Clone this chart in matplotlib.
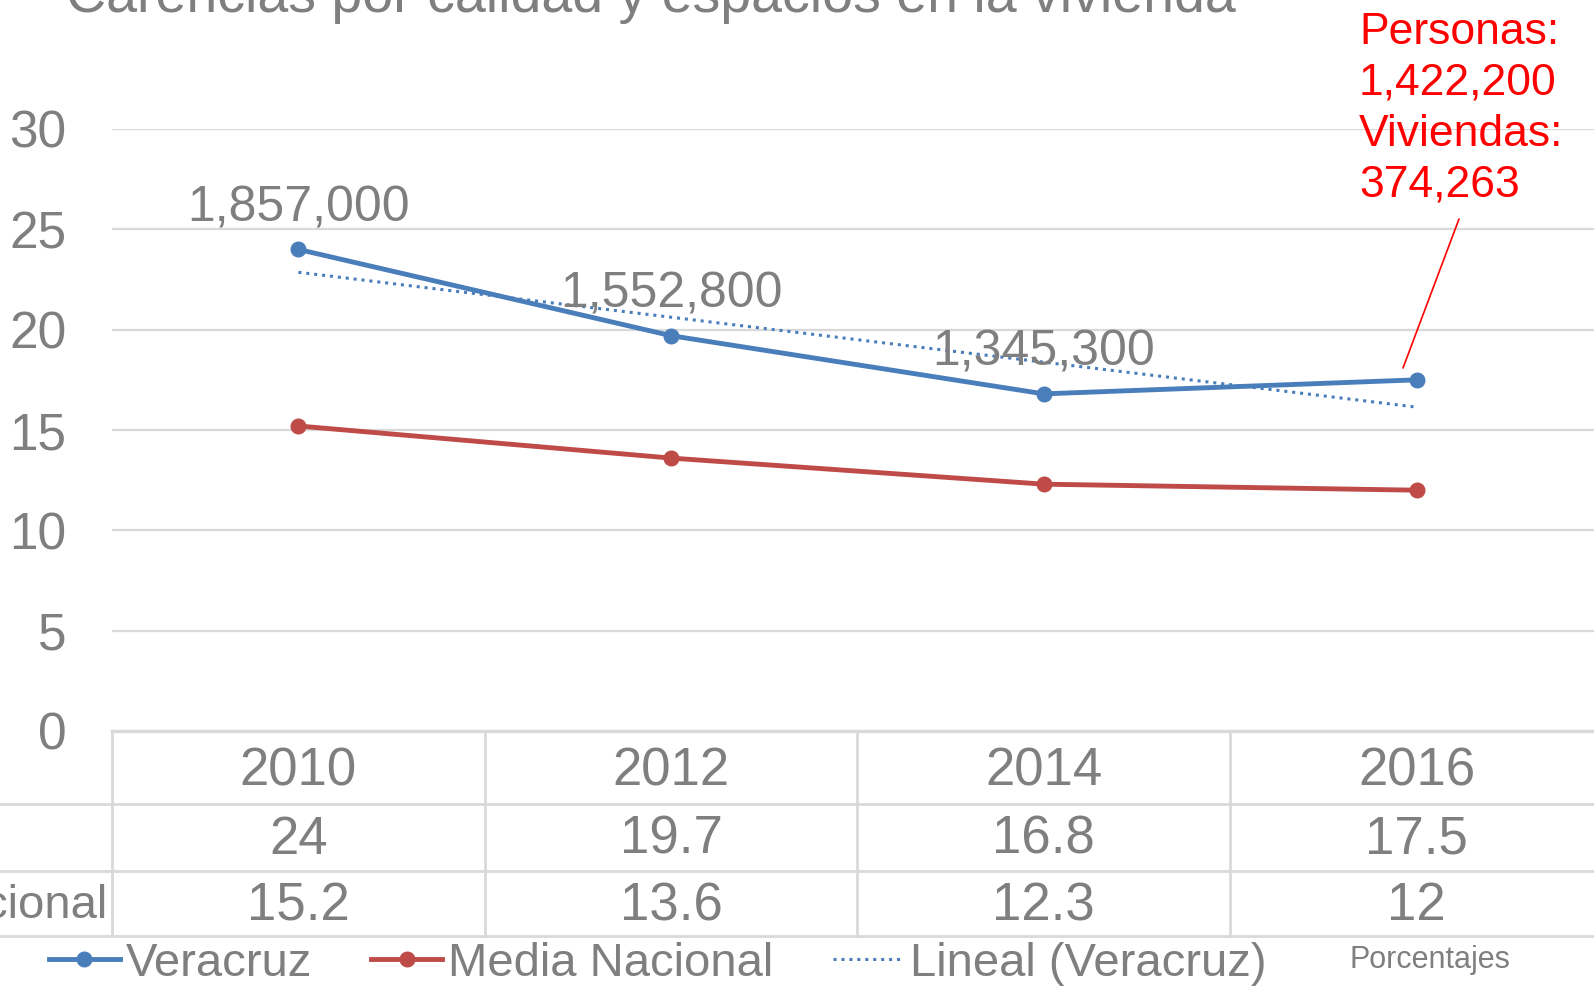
import matplotlib
matplotlib.use('Agg')
import matplotlib.pyplot as plt
import matplotlib.transforms as mtransforms
import numpy as np

# data
years = ['2010', '2012', '2014', '2016']
veracruz = [24, 19.7, 16.8, 17.5]
media_nacional = [15.2, 13.6, 12.3, 12]
personas_labels = ['1,857,000', '1,552,800', '1,345,300']
row_labels = ['Veracruz', 'Media Nacional']
title = 'Carencias por calidad y espacios en la vivienda'
note = 'Personas:\n1,422,200\nViviendas:\n374,263'

BLUE = '#4a7ebb'
RED = '#be4b48'
GRAY = '#7f7f7f'
GRID = '#d9d9d9'
FONT = ['Liberation Sans', 'DejaVu Sans']

W, H = 1594, 986
fig = plt.figure(figsize=(W / 100, H / 100), dpi=100)
# axes box in pixels: left 112, right 1603, top 129, bottom 731
ax = fig.add_axes([112 / W, (H - 731) / H, 1491 / W, 602 / H])
x = np.arange(len(years))

ax.set_xlim(-0.5, 3.5)
ax.set_ylim(0, 30)
for s in ax.spines.values():
    s.set_visible(False)
ax.set_yticks(range(0, 31, 5))
ax.set_yticklabels([str(v) for v in range(0, 31, 5)], fontsize=37,
                   color=GRAY, family=FONT)
ax.tick_params(axis='y', length=0, pad=33)
ax.set_xticks([])
for v in range(5, 31, 5):
    ax.axhline(v, color=GRID, lw=1.6, zorder=0)

ax.plot(x, veracruz, color=BLUE, lw=3.5, marker='o', ms=10.5, zorder=3)
ax.plot(x, media_nacional, color=RED, lw=3.5, marker='o', ms=10.5, zorder=3)

# linear trend of Veracruz
coef = np.polyfit(x, veracruz, 1)
ax.plot(x, np.polyval(coef, x), color=BLUE, lw=2.2,
        linestyle=(0, (1, 1.6)), zorder=2)

# data labels
label_y = [26.05, 21.75, 18.85]
for i, lab in enumerate(personas_labels):
    ax.text(x[i], label_y[i], lab, ha='center', va='center', fontsize=36,
            color=GRAY, family=FONT)

# data table under the axis
tr = mtransforms.blended_transform_factory(ax.transData, ax.transAxes)
row_y = [-0.067, -0.181, -0.291]
line_y = [0, -0.121, -0.2326, -0.3405]
ax.plot([-0.5, 3.6], [0, 0], transform=tr, color=GRID, lw=2.5, clip_on=False)
for ly in line_y[1:]:
    ax.plot([-2, 3.6], [ly, ly], transform=tr, color=GRID, lw=2, clip_on=False)
for b in np.arange(-0.5, 3.6, 1):
    ax.plot([b, b], [0, line_y[-1]], transform=tr, color=GRID, lw=2,
            clip_on=False)
for i in x:
    ax.text(i, row_y[0], years[i], transform=tr, ha='center', va='center',
            fontsize=38, color=GRAY, family=FONT)
    ax.text(i, row_y[1], f'{veracruz[i]:g}', transform=tr, ha='center',
            va='center', fontsize=38, color=GRAY, family=FONT)
    ax.text(i, row_y[2], f'{media_nacional[i]:g}', transform=tr, ha='center',
            va='center', fontsize=38, color=GRAY, family=FONT)
for r, lab in enumerate(row_labels):
    ax.text(-0.221, row_y[r + 1], lab, transform=ax.transAxes, ha='left',
            va='center', fontsize=34, color=GRAY, family=FONT)

# title (cut at the top like the reference)
fig.text(66 / W, 1 - 12 / H, title, ha='left', va='baseline', fontsize=40,
         color=GRAY, family=FONT)

# red note with leader line
fig.text(1359 / W, 1 - 12 / H, note, ha='left', va='top', fontsize=32,
         color='red', family=FONT, linespacing=1.31)
ax.annotate('', xy=(1403, H - 368), xycoords='figure pixels',
            xytext=(1459, H - 219), textcoords='figure pixels',
            arrowprops=dict(arrowstyle='-', color='red', lw=1.2,
                            shrinkA=0, shrinkB=0))

# legend
h1, = ax.plot([], [], color=BLUE, lw=3.5, marker='o', ms=10.5)
h2, = ax.plot([], [], color=RED, lw=3.5, marker='o', ms=10.5)
h3, = ax.plot([], [], color=BLUE, lw=2.2, linestyle=(0, (1, 1.6)))
leg = fig.legend([h1, h2, h3], ['Veracruz', 'Media Nacional', 'Lineal (Veracruz)'],
                 loc='center left', bbox_to_anchor=(49 / W, 1 - 964 / H),
                 ncol=3, frameon=False, borderpad=0, borderaxespad=0,
                 handlelength=1.5, handletextpad=0.13, columnspacing=1.25,
                 prop={'family': FONT, 'size': 34})
for t in leg.get_texts():
    t.set_color(GRAY)
fig.text(1349 / W, 1 - 960 / H, 'Porcentajes', ha='left', va='center',
         fontsize=22, color=GRAY, family=FONT)

fig.savefig('out.png', dpi=100)
